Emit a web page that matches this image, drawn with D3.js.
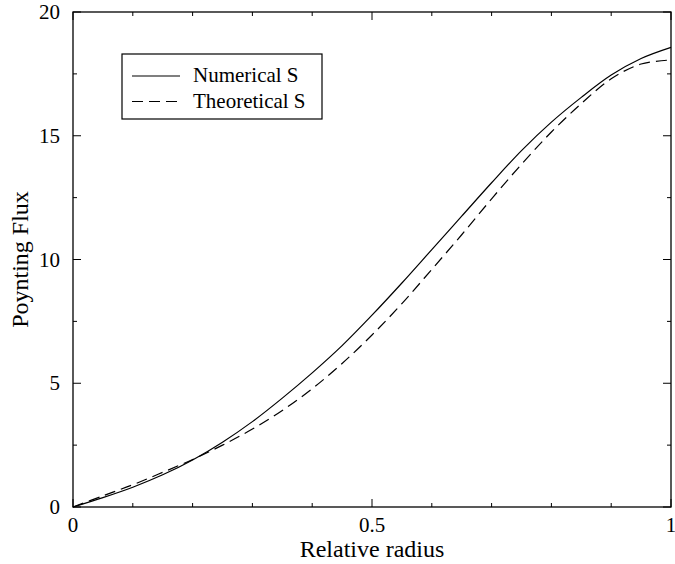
<!DOCTYPE html>
<html><head><meta charset="utf-8">
<script src="https://cdn.jsdelivr.net/npm/d3@7"></script>
<style>body{margin:0;background:#fff}svg{display:block}</style>
</head><body>
<svg id="c" width="675" height="564"></svg>
<script>
const radius = [0,0.05,0.1,0.15,0.2,0.25,0.3,0.35,0.4,0.45,0.5,0.55,0.6,0.65,0.7,0.75,0.8,0.85,0.9,0.95,1.0];
const numericalS = [0,0.38,0.80,1.30,1.90,2.62,3.45,4.40,5.42,6.52,7.75,9.05,10.40,11.75,13.10,14.40,15.55,16.55,17.45,18.12,18.57];
const theoreticalS = [0,0.45,0.90,1.40,1.92,2.50,3.15,3.90,4.78,5.80,6.95,8.22,9.60,11.0,12.45,13.85,15.15,16.30,17.30,17.90,18.06];
const xTicks = [0,0.5,1];
const xTickLabels = ["0","0.5","1"];
const yTicks = [0,5,10,15,20];
const yTickLabels = ["0","5","10","15","20"];
const seriesNames = ["Numerical S","Theoretical S"];

const FONT = "'Liberation Serif'";
const svg = d3.select("#c");
const L=73,R=671,T=12,B=507;
const x = d3.scaleLinear().domain([0,1]).range([L,R]);
const y = d3.scaleLinear().domain([0,20]).range([B,T]);

const g = svg.append("g");
g.append("rect").attr("x",L).attr("y",T).attr("width",R-L).attr("height",B-T)
 .attr("fill","none").attr("stroke","#000").attr("stroke-width",1.3);

const xMinor = d3.range(0,1.0001,0.1);
const yMinor = d3.range(0,20.001,2.5);
function tickLen(v,major){return major.some(m=>Math.abs(m-v)<1e-9)?8:4;}
xMinor.forEach(v=>{
  const l=tickLen(v,xTicks);
  g.append("line").attr("x1",x(v)).attr("x2",x(v)).attr("y1",B).attr("y2",B-l).attr("stroke","#000");
  g.append("line").attr("x1",x(v)).attr("x2",x(v)).attr("y1",T).attr("y2",T+l).attr("stroke","#000");
});
yMinor.forEach(v=>{
  const l=tickLen(v,yTicks);
  g.append("line").attr("y1",y(v)).attr("y2",y(v)).attr("x1",L).attr("x2",L+l).attr("stroke","#000");
  g.append("line").attr("y1",y(v)).attr("y2",y(v)).attr("x1",R).attr("x2",R-l).attr("stroke","#000");
});
xTicks.forEach((v,i)=>{
  g.append("text").style("font-family",FONT).attr("x",x(v)).attr("y",B+25).attr("text-anchor","middle").attr("font-size",21).text(xTickLabels[i]);
});
yTicks.forEach((v,i)=>{
  g.append("text").style("font-family",FONT).attr("x",L-13).attr("y",y(v)+7).attr("text-anchor","end").attr("font-size",21).text(yTickLabels[i]);
});
svg.append("text").style("font-family",FONT).attr("x",(L+R)/2).attr("y",557).attr("text-anchor","middle").attr("font-size",24).text("Relative radius");
svg.append("text").style("font-family",FONT).attr("transform",`translate(28,${(T+B)/2}) rotate(-90)`).attr("text-anchor","middle").attr("font-size",24).text("Poynting Flux");

const line = d3.line().x(d=>x(d[0])).y(d=>y(d[1])).curve(d3.curveCatmullRom.alpha(0.5));
g.append("path").datum(radius.map((r,i)=>[r,numericalS[i]])).attr("d",line)
 .attr("fill","none").attr("stroke","#000").attr("stroke-width",1.2);
g.append("path").datum(radius.map((r,i)=>[r,theoreticalS[i]])).attr("d",line)
 .attr("fill","none").attr("stroke","#000").attr("stroke-width",1.2).attr("stroke-dasharray","11,6");

const lg = svg.append("g");
lg.append("rect").attr("x",122).attr("y",54).attr("width",200).attr("height",65)
 .attr("fill","#fff").attr("stroke","#000").attr("stroke-width",1.2);
[0,1].forEach(i=>{
  const yy = 76 + i*25.5;
  lg.append("line").attr("x1",132).attr("x2",180).attr("y1",yy).attr("y2",yy)
    .attr("stroke","#000").attr("stroke-width",1.2).attr("stroke-dasharray",i?"11,6":null);
  lg.append("text").style("font-family",FONT).attr("x",193).attr("y",yy+6).attr("font-size",21).text(seriesNames[i]);
});
</script>
</body></html>
